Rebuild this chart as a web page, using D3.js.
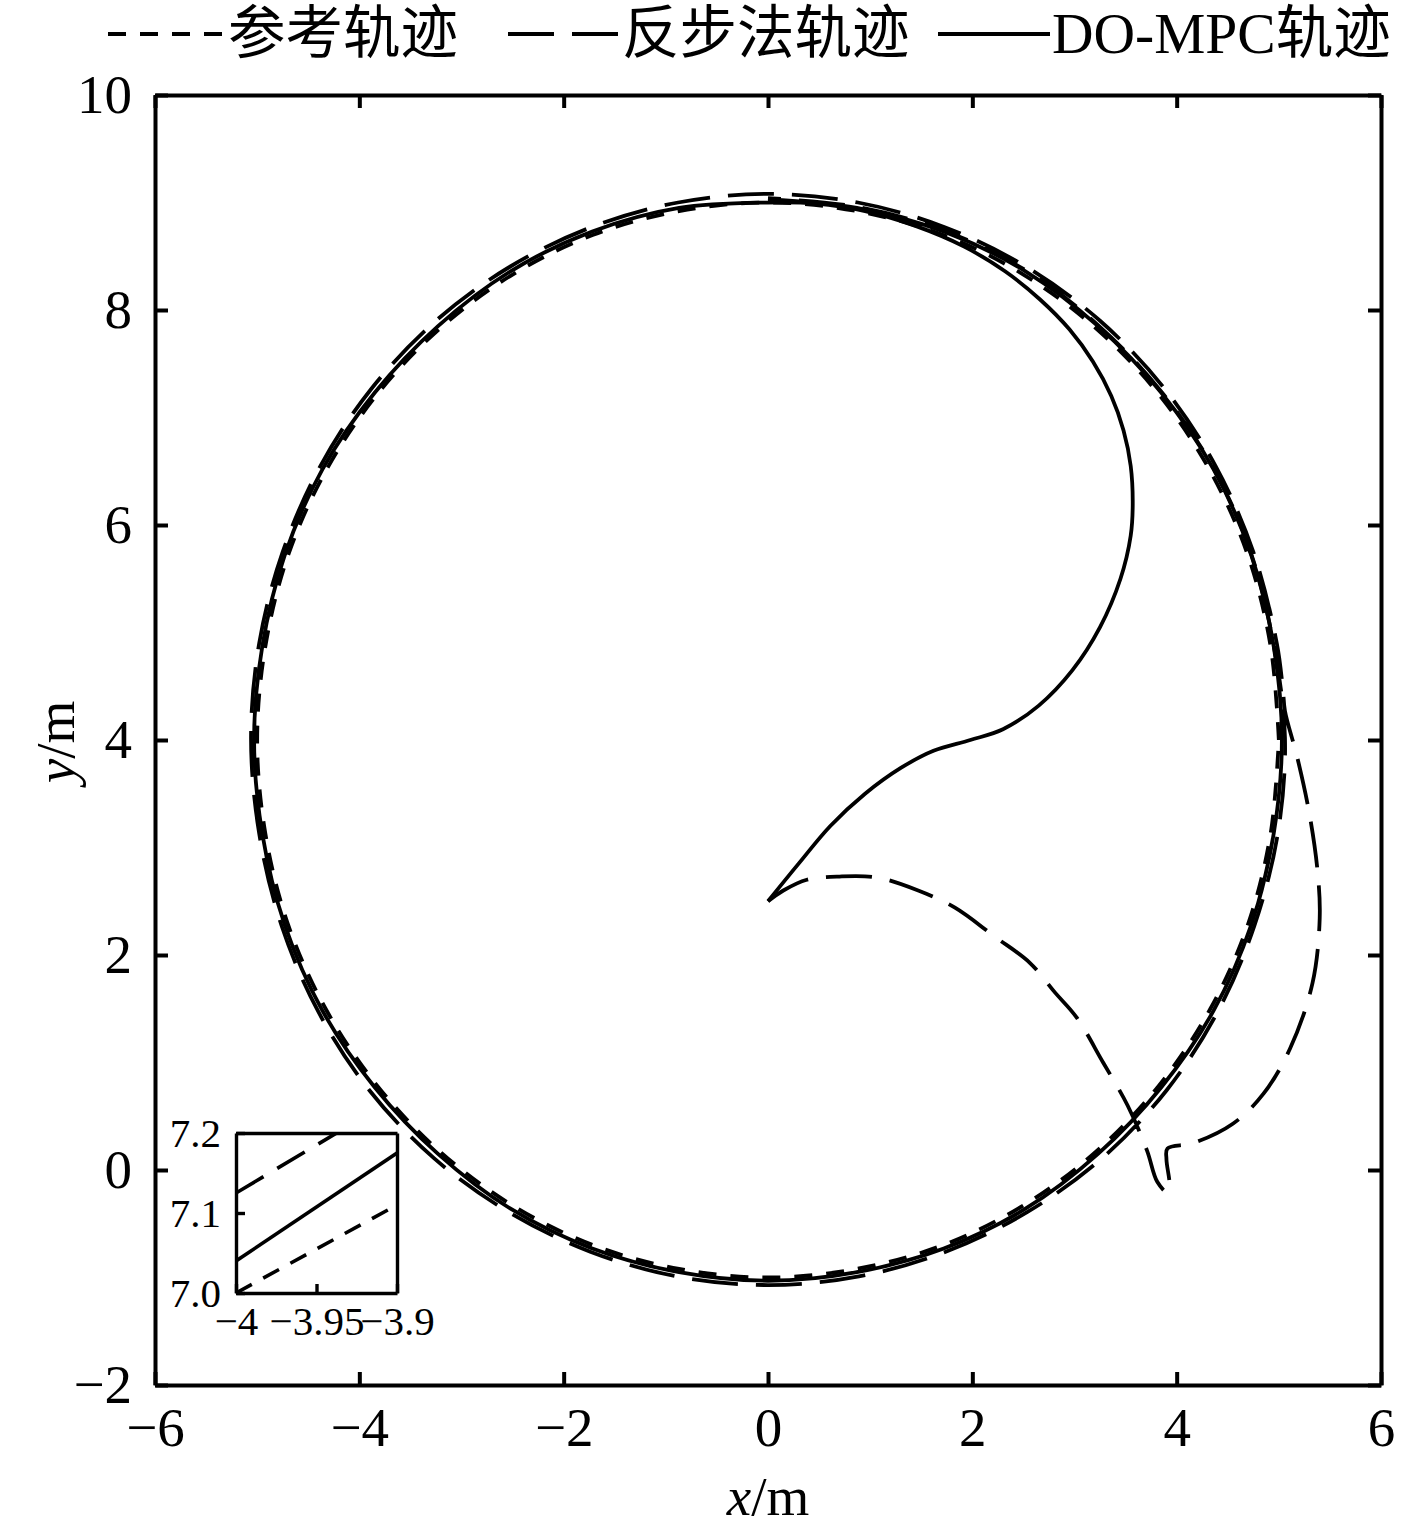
<!DOCTYPE html>
<html>
<head>
<meta charset="utf-8">
<script src="https://cdn.jsdelivr.net/npm/d3@7"></script>
<style>
  body { margin: 0; background: #fff; }
  text { fill: #000; }
</style>
</head>
<body>
<div id="chart"></div>
<script>
// 轨迹数据 (从原图读取, 单位 m)
const xTicks = [-6, -4, -2, 0, 2, 4, 6];
const yTicks = [-2, 0, 2, 4, 6, 8, 10];
const insetXTicks = [-4, -3.95, -3.9];
const insetYTicks = [7.0, 7.1, 7.2];
const legendNames = ["参考轨迹", "反步法轨迹", "DO-MPC轨迹"];

// 参考轨迹 (圆, 中心 (0,4), 半径 5)
const refX = [5, 4.92, 4.70, 4.33, 3.83, 3.21, 2.50, 1.71, 0.87, 0, -0.87, -1.71, -2.50, -3.21, -3.83, -4.33, -4.70, -4.92,
  -5, -4.92, -4.70, -4.33, -3.83, -3.21, -2.50, -1.71, -0.87, 0, 0.87, 1.71, 2.50, 3.21, 3.83, 4.33, 4.70, 4.92, 5];
const refY = [4, 4.87, 5.71, 6.50, 7.21, 7.83, 8.33, 8.70, 8.92, 9, 8.92, 8.70, 8.33, 7.83, 7.21, 6.50, 5.71, 4.87,
  4, 3.13, 2.29, 1.50, 0.79, 0.17, -0.33, -0.70, -0.92, -1, -0.92, -0.70, -0.33, 0.17, 0.79, 1.50, 2.29, 3.13, 4];

// 反步法轨迹
const bsX = [0, 0.15, 0.38, 0.70, 1.07, 1.47, 1.83, 2.22, 2.56, 2.81, 3.02, 3.28, 3.52, 3.71, 3.81, 3.91, 3.93, 3.90, 3.91,
  4.16, 4.55, 4.85, 5.11, 5.33, 5.40, 5.38, 5.30, 5.18, 5.06, 5.04,
  4.98, 4.75, 4.38, 3.88, 3.25, 2.53, 1.73, 0.88, 0, -0.88, -1.73, -2.53, -3.25, -3.88, -4.38, -4.75, -4.98,
  -5.06, -4.98, -4.76, -4.40, -3.90, -3.27, -2.54, -1.74, -0.89, 0, 0.89, 1.74, 2.54, 3.27, 3.90, 4.40, 4.76, 4.99,
  5.06, 4.95, 4.73, 4.36, 3.85, 3.23, 2.52, 1.72, 0.87, 0];
const bsY = [2.50, 2.60, 2.70, 2.73, 2.72, 2.60, 2.44, 2.17, 1.93, 1.65, 1.42, 1.00, 0.60, 0.18, -0.11, -0.21, -0.14, 0.10, 0.20,
  0.25, 0.43, 0.71, 1.13, 1.74, 2.34, 2.77, 3.31, 3.84, 4.27, 4.47,
  4.90, 5.75, 6.55, 7.27, 7.90, 8.40, 8.77, 9.00, 9.08, 9.00, 8.77, 8.40, 7.90, 7.27, 6.55, 5.75, 4.90,
  4.02, 3.13, 2.27, 1.47, 0.74, 0.11, -0.39, -0.76, -0.99, -1.07, -0.99, -0.76, -0.39, 0.11, 0.74, 1.47, 2.27, 3.13,
  4.02, 4.88, 5.73, 6.53, 7.24, 7.86, 8.37, 8.74, 8.96, 9.04];

// DO-MPC 轨迹
const mpcX = [0, 0.30, 0.61, 0.95, 1.30, 1.62, 1.98, 2.30, 2.65, 2.98, 3.25, 3.45, 3.55, 3.57, 3.55, 3.48, 3.36, 3.18, 2.95, 2.66, 2.32, 1.92, 1.45, 0.95, 0.47, 0,
  -0.87, -1.72, -2.52, -3.23, -3.85, -4.36, -4.73, -4.95, -5.03, -4.95, -4.73, -4.36, -3.85, -3.23, -2.52, -1.72, -0.87,
  0, 0.87, 1.72, 2.52, 3.23, 3.85, 4.36, 4.73, 4.95, 5.03, 4.95, 4.73, 4.36, 3.85, 3.23, 2.52, 1.72, 0.87, 0];
const mpcY = [2.50, 2.85, 3.20, 3.50, 3.74, 3.90, 4.00, 4.10, 4.32, 4.65, 5.05, 5.50, 5.90, 6.20, 6.55, 6.88, 7.20, 7.52, 7.82, 8.10, 8.36, 8.59, 8.78, 8.92, 8.99, 9.00,
  8.95, 8.73, 8.36, 7.85, 7.23, 6.52, 5.72, 4.87, 4.00, 3.13, 2.28, 1.48, 0.77, 0.15, -0.36, -0.73, -0.95,
  -1.03, -0.95, -0.73, -0.36, 0.15, 0.77, 1.48, 2.28, 3.13, 4.00, 4.87, 5.72, 6.52, 7.23, 7.85, 8.36, 8.73, 8.95, 9.03];

// 局部放大图中的轨迹段
const insetRefX = [-4, -3.9], insetRefY = [7.0, 7.11];
const insetBsX = [-4, -3.9], insetBsY = [7.125, 7.245];
const insetMpcX = [-4, -3.9], insetMpcY = [7.04, 7.175];

const W = 1417, H = 1533;
const FONT = "'Liberation Serif', 'Times New Roman', serif";
const CJK = "'Liberation Serif', 'Noto Sans CJK SC', serif";
const fmt = d => d < 0 ? "\u2212" + Math.abs(d) : String(d);

const styles = [
  { dash: "18,14" },
  { dash: "46,18" },
  { dash: null }
];

const svg = d3.select("#chart").append("svg")
  .attr("width", W).attr("height", H)
  .style("background", "#fff");

const x = d3.scaleLinear().domain([-6, 6]).range([155, 1381]);
const y = d3.scaleLinear().domain([-2, 10]).range([1385, 95]);

const zip = (xs, ys) => xs.map((v, i) => [v, ys[i]]);
const series = [zip(refX, refY), zip(bsX, bsY), zip(mpcX, mpcY)];

const line = d3.line()
  .x(d => x(d[0])).y(d => y(d[1]))
  .curve(d3.curveCatmullRom.alpha(0.5));

svg.append("clipPath").attr("id", "plotclip")
  .append("rect").attr("x", 155).attr("y", 95).attr("width", 1226).attr("height", 1290);

const plot = svg.append("g").attr("clip-path", "url(#plotclip)");
series.forEach((s, i) => {
  plot.append("path")
    .attr("d", line(s))
    .attr("fill", "none")
    .attr("stroke", "#000")
    .attr("stroke-width", 3.8)
    .attr("stroke-dasharray", styles[i].dash)
    .attr("stroke-linejoin", "round");
});

// 坐标轴 (刻度朝内, 四边框)
const axisFont = g => g.selectAll("text")
  .attr("font-family", FONT).attr("font-size", 55).attr("fill", "#000");

svg.append("g")
  .attr("transform", `translate(0,${y(-2)})`)
  .call(d3.axisBottom(x).tickValues(xTicks).tickFormat(fmt).tickSize(-13).tickSizeOuter(0).tickPadding(22))
  .call(axisFont)
  .call(g => g.selectAll("text").attr("dy", "0.71em"));

svg.append("g")
  .attr("transform", `translate(${x(-6)},0)`)
  .call(d3.axisLeft(y).tickValues(yTicks).tickFormat(fmt).tickSize(-13).tickSizeOuter(0).tickPadding(23))
  .call(axisFont);

svg.append("g")
  .attr("transform", `translate(0,${y(10)})`)
  .call(d3.axisTop(x).tickValues(xTicks).tickFormat("").tickSize(-13).tickSizeOuter(0));

svg.append("g")
  .attr("transform", `translate(${x(6)},0)`)
  .call(d3.axisRight(y).tickValues(yTicks).tickFormat("").tickSize(-13).tickSizeOuter(0));

svg.selectAll(".domain, .tick line").attr("stroke", "#000").attr("stroke-width", 4);

// 坐标轴标题
svg.append("text")
  .attr("x", 768).attr("y", 1515).attr("text-anchor", "middle")
  .attr("font-family", FONT).attr("font-size", 55)
  .html('<tspan font-style="italic">x</tspan>/m');

svg.append("text")
  .attr("transform", "translate(74,742) rotate(-90)")
  .attr("text-anchor", "middle")
  .attr("font-family", FONT).attr("font-size", 55)
  .html('<tspan font-style="italic">y</tspan>/m');

// 图例
const legendItems = [
  { x0: 108, x1: 225, tx: 228 },
  { x0: 508, x1: 620, tx: 622 },
  { x0: 938, x1: 1050, tx: 1052 }
];
legendItems.forEach((it, i) => {
  svg.append("line")
    .attr("x1", it.x0).attr("x2", it.x1).attr("y1", 34).attr("y2", 34)
    .attr("stroke", "#000").attr("stroke-width", 3.8)
    .attr("stroke-dasharray", styles[i].dash);
  svg.append("text")
    .attr("x", it.tx).attr("y", 53)
    .attr("font-family", CJK).attr("font-size", 57.5)
    .text(legendNames[i]);
});

// 局部放大图
const ix = d3.scaleLinear().domain([-4, -3.9]).range([236, 397]);
const iy = d3.scaleLinear().domain([7.0, 7.2]).range([1293, 1133]);

svg.append("rect")
  .attr("x", 236).attr("y", 1133).attr("width", 161).attr("height", 160)
  .attr("fill", "#fff");

svg.append("clipPath").attr("id", "insetclip")
  .append("rect").attr("x", 236).attr("y", 1133).attr("width", 161).attr("height", 160);

const iline = d3.line().x(d => ix(d[0])).y(d => iy(d[1]));
const insetSeries = [zip(insetRefX, insetRefY), zip(insetBsX, insetBsY), zip(insetMpcX, insetMpcY)];
const ig = svg.append("g").attr("clip-path", "url(#insetclip)");
insetSeries.forEach((s, i) => {
  ig.append("path")
    .attr("d", iline(s))
    .attr("fill", "none").attr("stroke", "#000").attr("stroke-width", 3.6)
    .attr("stroke-dasharray", i === 0 ? "18,13" : (i === 1 ? "32,16" : null));
});

const insetFont = g => g.selectAll("text")
  .attr("font-family", FONT).attr("font-size", 41).attr("fill", "#000");

const insetAxes = svg.append("g");
insetAxes.append("g")
  .attr("transform", `translate(0,${iy(7.0)})`)
  .call(d3.axisBottom(ix).tickValues(insetXTicks).tickFormat(fmt).tickSize(-9).tickSizeOuter(0).tickPadding(13))
  .call(insetFont)
  .call(g => g.selectAll("text").attr("dy", "0.71em"));

insetAxes.append("g")
  .attr("transform", `translate(${ix(-4)},0)`)
  .call(d3.axisLeft(iy).tickValues(insetYTicks).tickFormat(d => d.toFixed(1)).tickSize(-9).tickSizeOuter(0).tickPadding(15))
  .call(insetFont);

insetAxes.append("g")
  .attr("transform", `translate(0,${iy(7.2)})`)
  .call(d3.axisTop(ix).tickValues([]).tickSizeOuter(0));

insetAxes.append("g")
  .attr("transform", `translate(${ix(-3.9)},0)`)
  .call(d3.axisRight(iy).tickValues([]).tickSizeOuter(0));

insetAxes.selectAll(".domain, .tick line").attr("stroke", "#000").attr("stroke-width", 3.4);
</script>
</body>
</html>
